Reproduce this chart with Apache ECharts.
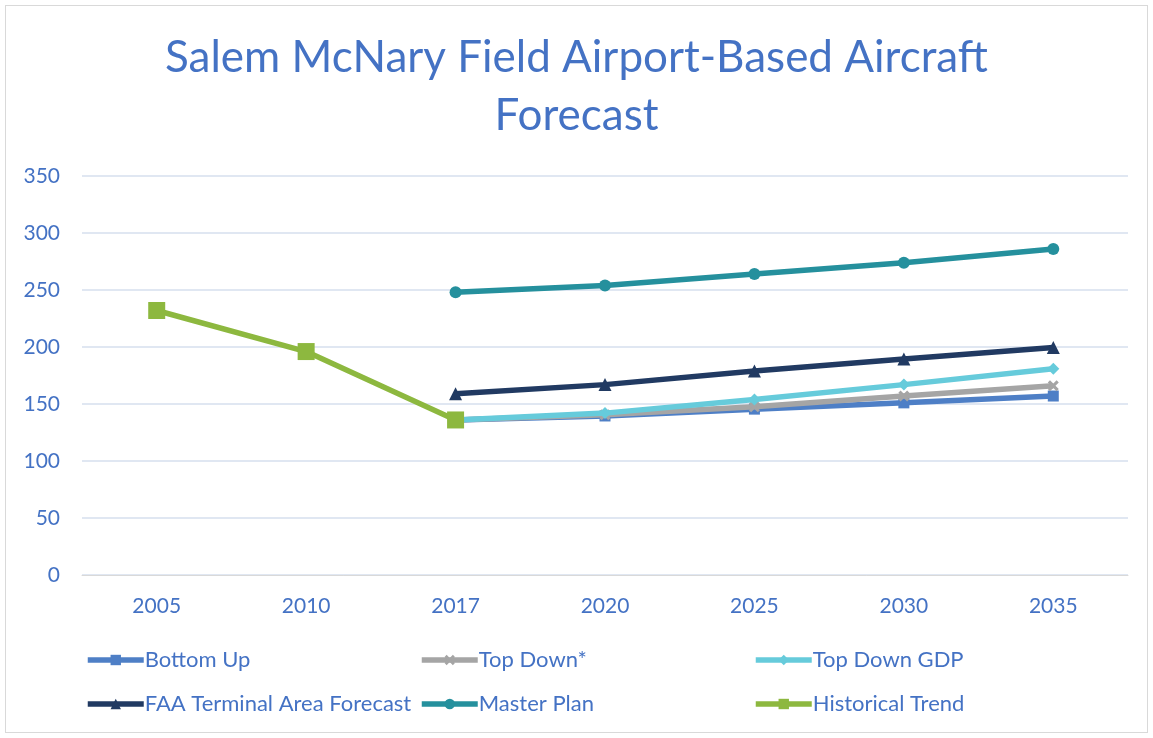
<!DOCTYPE html>
<html>
<head>
<meta charset="utf-8">
<script src="https://cdn.jsdelivr.net/npm/echarts@6/dist/echarts.min.js"></script>
<style>
  html, body { margin: 0; padding: 0; background: #fff; }
  #main { position: absolute; left: 5px; top: 5px; width: 1143px; height: 728px; border: 1px solid #D9D9D9; box-sizing: border-box; }
</style>
</head>
<body>
<div id="main"></div>
<script>
var years = ['2005', '2010', '2017', '2020', '2025', '2030', '2035'];
var bottomUp = [null, null, 136, 139.5, 145.5, 151, 157];
var topDown = [null, null, 136, 140.5, 147.5, 157, 166];
var topDownGdp = [null, null, 136, 142, 154, 167, 181];
var faaTaf = [null, null, 159, 167, 179, 189.5, 199.5];
var masterPlan = [null, null, 248, 254, 264, 274, 286];
var historical = [232, 196, 136, null, null, null, null];
var yTicks = [0, 50, 100, 150, 200, 250, 300, 350];

var blue = '#4472C4';
var font = 'Lato, "Open Sans", sans-serif';
var crossPath = 'path://M0,2L2,0L5,3L8,0L10,2L7,5L10,8L8,10L5,7L2,10L0,8L3,5Z';

var chartDom = document.getElementById('main');
var myChart = echarts.init(chartDom);

function mkSeries(name, data, color, symbol, size, z) {
  return {
    name: name,
    type: 'line',
    data: data,
    symbol: symbol,
    symbolSize: size,
    showAllSymbol: true,
    connectNulls: false,
    z: z,
    lineStyle: { color: color, width: 5.5 },
    itemStyle: { color: color },
    emphasis: { disabled: true }
  };
}

var seriesList = [
  mkSeries('Bottom Up', bottomUp, '#4E7FC6', 'rect', 11, 2),
  mkSeries('Top Down*', topDown, '#A5A5A5', crossPath, 11, 3),
  mkSeries('Top Down GDP', topDownGdp, '#66CBDB', 'diamond', 12, 4),
  mkSeries('FAA Terminal Area Forecast', faaTaf, '#213A62', 'triangle', 13, 5),
  mkSeries('Master Plan', masterPlan, '#25909D', 'circle', 12, 6),
  mkSeries('Historical Trend', historical, '#8DB83F', 'rect', 17, 7)
];

// legend placed as a 3 x 2 grid
var legendPos = [[74, 638], [408, 638], [742, 638], [74, 682], [408, 682], [742, 682]];
var legends = seriesList.map(function (s, i) {
  return {
    data: [s.name],
    left: legendPos[i][0],
    top: legendPos[i][1],
    itemWidth: 56,
    itemHeight: 13,
    itemGap: 0,
    selectedMode: false,
    lineStyle: { width: 5.5 },
    textStyle: { color: blue, fontSize: 22, fontFamily: font, padding: [0, 0, 0, -4] }
  };
});

var option = {
  animation: false,
  title: {
    text: 'Salem McNary Field Airport-Based Aircraft\nForecast',
    left: 'center',
    top: 18,
    textStyle: { color: blue, fontSize: 44, fontWeight: 'normal', fontFamily: font, lineHeight: 58 }
  },
  legend: legends,
  grid: { left: 76, right: 19, top: 170, bottom: 157 },
  xAxis: {
    type: 'category',
    data: years,
    boundaryGap: true,
    axisLine: { lineStyle: { color: '#D9D9D9', width: 1 } },
    axisTick: { show: false },
    axisLabel: { color: blue, fontSize: 21, fontFamily: font, margin: 21 }
  },
  yAxis: {
    type: 'value',
    min: yTicks[0],
    max: yTicks[yTicks.length - 1],
    interval: 50,
    axisLine: { show: false },
    axisTick: { show: false },
    splitLine: { lineStyle: { color: '#D6DFEE', width: 1.5 } },
    axisLabel: { color: blue, fontSize: 21, fontFamily: font, margin: 22 }
  },
  series: seriesList
};

option && myChart.setOption(option);
</script>
</body>
</html>
